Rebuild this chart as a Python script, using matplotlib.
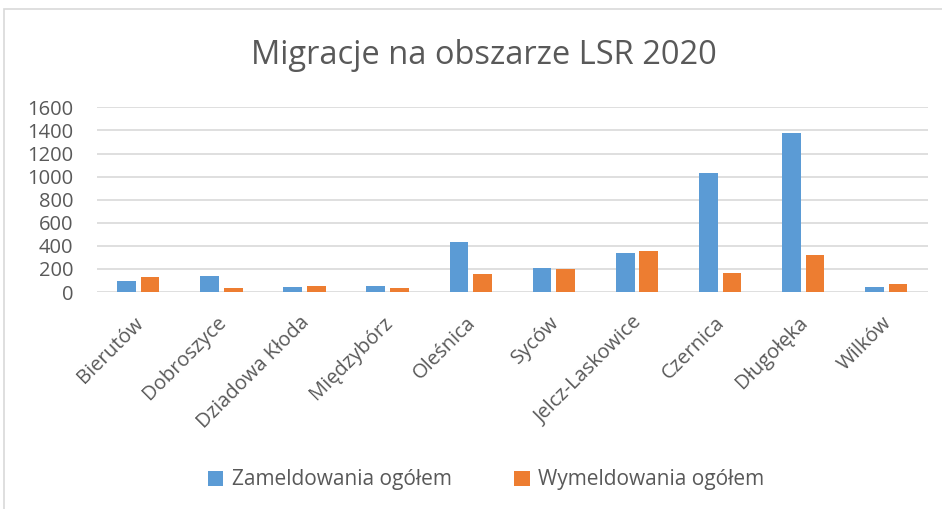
import numpy as np
import matplotlib.pyplot as plt
import matplotlib.transforms as mtransforms
from matplotlib.patches import Rectangle

gminy = ["Bierutów", "Dobroszyce", "Dziadowa Kłoda", "Międzybórz", "Oleśnica",
         "Syców", "Jelcz-Laskowice", "Czernica", "Długołęka", "Wilków"]
zameldowania = [95, 138, 40, 52, 436, 205, 335, 1028, 1380, 43]
wymeldowania = [130, 35, 55, 35, 153, 199, 352, 164, 320, 69]
yticks = [0, 200, 400, 600, 800, 1000, 1200, 1400, 1600]

plt.rcParams['font.family'] = ['Open Sans', 'DejaVu Sans']
txt = '#595959'

fig = plt.figure(figsize=(9.42, 5.09), dpi=100)
ax = fig.add_axes([0.1027, 0.4263, 0.8823, 0.3627])

# ramka wykresu
fig.patches.append(Rectangle((4/942, -0.1), 1.0, 1 - 9/509 + 0.1, transform=fig.transFigure,
                             fill=False, edgecolor='#d9d9d9', lw=1.2))

x = np.arange(len(gminy))
w = 0.225
ax.bar(x - 0.142, zameldowania, w, color='#5B9BD5', label='Zameldowania ogółem', zorder=3)
ax.bar(x + 0.142, wymeldowania, w, color='#ED7D31', label='Wymeldowania ogółem', zorder=3)

ax.set_xlim(-0.5, len(gminy) - 0.5)
ax.set_ylim(0, 1600)
ax.set_yticks(yticks)
ax.grid(axis='y', color='#d9d9d9', lw=1.2, zorder=0)
for s in ax.spines.values():
    s.set_visible(False)
ax.tick_params(length=0, labelsize=14.5, labelcolor=txt)
ax.tick_params(axis='y', pad=17)
ax.set_xticks(x)
ax.set_xticklabels(gminy, rotation=45, ha='right', rotation_mode='anchor')
ax.tick_params(axis='x', pad=15)
shift = mtransforms.ScaledTranslation(-5/100, 0, fig.dpi_scale_trans)
for lab in ax.get_xticklabels():
    lab.set_transform(lab.get_transform() + shift)

fig.text(484/942, 1 - 55/509, 'Migracje na obszarze LSR 2020', ha='center', va='center',
         fontsize=23.5, color=txt)

fig.legend(loc='center', bbox_to_anchor=(486/942, 1 - 480/509), ncol=2, frameon=False,
           fontsize=15, labelcolor=txt, handlelength=0.75, handleheight=0.75,
           handletextpad=0.4, columnspacing=3.0)

fig.savefig('out.png', dpi=100)
